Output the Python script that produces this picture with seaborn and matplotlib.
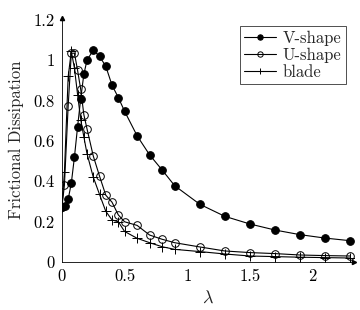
import matplotlib
matplotlib.use("Agg")
import pandas as pd
import matplotlib.pyplot as plt
import seaborn as sns
from matplotlib.ticker import FuncFormatter

# data
lam_v = [0, 0.025, 0.05, 0.075, 0.1, 0.125, 0.15, 0.175, 0.2, 0.25, 0.3, 0.35, 0.4,
         0.45, 0.5, 0.6, 0.7, 0.8, 0.9, 1.1, 1.3, 1.5, 1.7, 1.9, 2.1, 2.3]
v_shape = [0.27, 0.275, 0.31, 0.39, 0.52, 0.67, 0.81, 0.93, 1.0, 1.05, 1.02, 0.97, 0.876,
           0.815, 0.747, 0.625, 0.53, 0.455, 0.377, 0.285, 0.225, 0.187, 0.157, 0.134, 0.117, 0.104]

lam_ub = [0, 0.02, 0.05, 0.075, 0.1, 0.125, 0.15, 0.175, 0.2, 0.25, 0.3, 0.35, 0.4,
          0.45, 0.5, 0.6, 0.7, 0.8, 0.9, 1.1, 1.3, 1.5, 1.7, 1.9, 2.1, 2.3]
u_shape = [0.27, 0.38, 0.775, 1.035, 1.035, 0.95, 0.855, 0.73, 0.66, 0.525, 0.425, 0.33, 0.295,
           0.232, 0.198, 0.18, 0.132, 0.111, 0.094, 0.073, 0.053, 0.045, 0.04, 0.033, 0.03, 0.028]
blade = [0.27, 0.445, 0.92, 1.045, 0.96, 0.83, 0.705, 0.62, 0.537, 0.42, 0.334, 0.25, 0.207,
         0.198, 0.15, 0.116, 0.094, 0.074, 0.061, 0.05, 0.038, 0.028, 0.025, 0.022, 0.02, 0.018]

x_ticks = [0, 0.5, 1, 1.5, 2]
y_ticks = [0, 0.2, 0.4, 0.6, 0.8, 1, 1.2]

sns.set_style("white")
plt.rcParams["font.family"] = ["cmr10", "DejaVu Serif"]
plt.rcParams["mathtext.fontset"] = "cm"
plt.rcParams["axes.formatter.use_mathtext"] = True
plt.rcParams["font.size"] = 12

fig = plt.figure(figsize=(3.6, 3.1), dpi=100)
ax = fig.add_axes([0.172, 0.156, 0.811, 0.786])

lw = 0.8
sns.lineplot(x=lam_v, y=v_shape, ax=ax, color="black", lw=lw, marker="o", markersize=5.5,
             markerfacecolor="black", markeredgecolor="black", label="V-shape")
sns.lineplot(x=lam_ub, y=u_shape, ax=ax, color="black", lw=lw, marker="o", markersize=5.5,
             markerfacecolor="none", markeredgecolor="black", markeredgewidth=0.7, label="U-shape")
sns.lineplot(x=lam_ub, y=blade, ax=ax, color="black", lw=lw, marker="+", markersize=6.5,
             markeredgecolor="black", markeredgewidth=0.7, label="blade")

ax.set_xlim(0, 2.33)
ax.set_ylim(0, 1.21)
ax.set_xticks(x_ticks)
ax.set_yticks(y_ticks)
fmt = FuncFormatter(lambda v, p: "%g" % v)
ax.xaxis.set_major_formatter(fmt)
ax.yaxis.set_major_formatter(fmt)
ax.tick_params(direction="inout", length=4, width=0.6, colors="black", pad=3)

for s in ["top", "right"]:
    ax.spines[s].set_visible(False)
for s in ["left", "bottom"]:
    ax.spines[s].set_color("black")
    ax.spines[s].set_linewidth(0.6)
# axis arrows
ax.plot(1, 0, ">", color="black", ms=3, transform=ax.transAxes, clip_on=False)
ax.plot(0, 1, "^", color="black", ms=3, transform=ax.transAxes, clip_on=False)

ax.set_xlabel(r"$\lambda$", fontsize=13, labelpad=4)
ax.set_ylabel("Frictional Dissipation", labelpad=7)

leg = ax.legend(loc="upper right", bbox_to_anchor=(1.0, 1.0), frameon=True, fancybox=False,
                handlelength=1.9, handletextpad=0.4, borderpad=0.25, labelspacing=0.1,
                markerscale=0.7)
leg.get_frame().set_edgecolor("black")
leg.get_frame().set_linewidth(0.6)

fig.savefig("out.png", dpi=100)
